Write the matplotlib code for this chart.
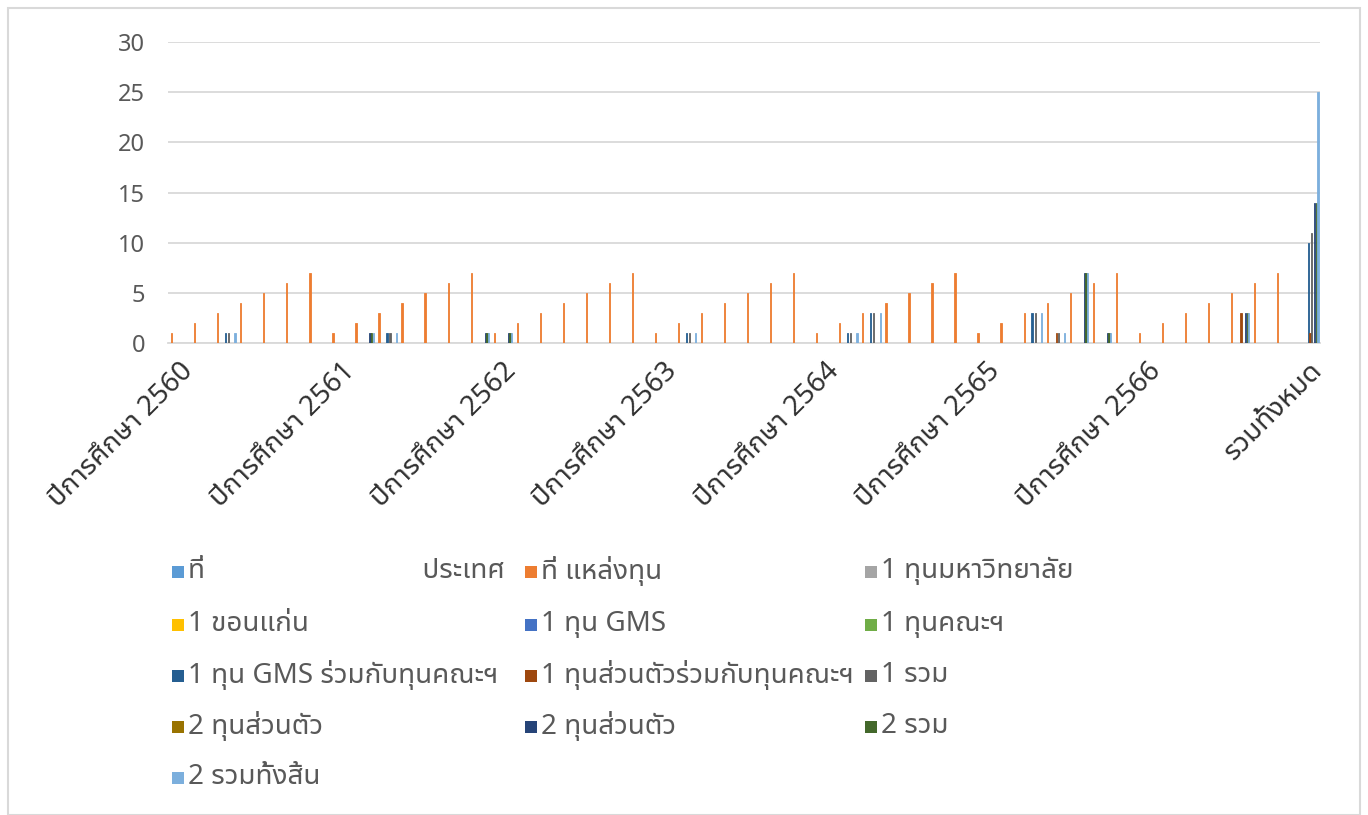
import matplotlib
matplotlib.use("Agg")
import matplotlib.pyplot as plt
from matplotlib.patches import Rectangle
import numpy as np

FONT = ['Noto Sans', 'Noto Sans Thai UI', 'Noto Sans Thai', 'DejaVu Sans']
plt.rcParams['font.family'] = FONT

# ---------------- data ----------------
# 50 categories: each year label followed by 6 unlabeled rows, then the grand total
categories = [
    "ปีการศึกษา 2560", "", "", "", "", "", "",
    "ปีการศึกษา 2561", "", "", "", "", "", "",
    "ปีการศึกษา 2562", "", "", "", "", "", "",
    "ปีการศึกษา 2563", "", "", "", "", "", "",
    "ปีการศึกษา 2564", "", "", "", "", "", "",
    "ปีการศึกษา 2565", "", "", "", "", "", "",
    "ปีการศึกษา 2566", "", "", "", "", "", "",
    "รวมทั้งหมด",
]

series_names = [
    "ที่                              ประเทศ",
    "ที่ แหล่งทุน",
    "1 ทุนมหาวิทยาลัย",
    "1 ขอนแก่น",
    "1 ทุน GMS",
    "1 ทุนคณะฯ",
    "1 ทุน GMS ร่วมกับทุนคณะฯ",
    "1 ทุนส่วนตัวร่วมกับทุนคณะฯ",
    "1 รวม",
    "2 ทุนส่วนตัว",
    "2 ทุนส่วนตัว",
    "2 รวม",
    "2 รวมทั้งสิ้น",
]

s_country = [0] * 50
s_source = [1, 2, 3, 4, 5, 6, 7,
            1, 2, 3, 4, 5, 6, 7,
            1, 2, 3, 4, 5, 6, 7,
            1, 2, 3, 4, 5, 6, 7,
            1, 2, 3, 4, 5, 6, 7,
            1, 2, 3, 4, 5, 6, 7,
            1, 2, 3, 4, 5, 6, 7,
            0]
s_univ = [0] * 50
s_kku = [0] * 50
s_gms = [0] * 50
s_faculty = [0] * 50
s_gms_fac = [0, 0, 1, 0, 0, 0, 0,
             0, 0, 1, 0, 0, 0, 0,
             0, 0, 0, 0, 0, 0, 0,
             0, 1, 0, 0, 0, 0, 0,
             0, 1, 3, 0, 0, 0, 0,
             0, 0, 3, 0, 0, 0, 0,
             0, 0, 0, 0, 0, 0, 0,
             10]
s_priv_fac = [0, 0, 0, 0, 0, 0, 0,
              0, 0, 0, 0, 0, 0, 0,
              0, 0, 0, 0, 0, 0, 0,
              0, 0, 0, 0, 0, 0, 0,
              0, 0, 0, 0, 0, 0, 0,
              0, 0, 0, 1, 0, 0, 0,
              0, 0, 0, 0, 3, 0, 0,
              1]
s_total1 = [0, 0, 1, 0, 0, 0, 0,
            0, 0, 1, 0, 0, 0, 0,
            0, 0, 0, 0, 0, 0, 0,
            0, 1, 0, 0, 0, 0, 0,
            0, 1, 3, 0, 0, 0, 0,
            0, 0, 3, 1, 0, 0, 0,
            0, 0, 0, 0, 0, 0, 0,
            11]
s_priv2a = [0] * 50
s_priv2b = [0, 0, 0, 0, 0, 0, 0,
            0, 1, 0, 0, 0, 0, 1,
            1, 0, 0, 0, 0, 0, 0,
            0, 0, 0, 0, 0, 0, 0,
            0, 0, 0, 0, 0, 0, 0,
            0, 0, 0, 0, 7, 1, 0,
            0, 0, 0, 0, 3, 0, 0,
            14]
s_total2 = [0, 0, 0, 0, 0, 0, 0,
            0, 1, 0, 0, 0, 0, 1,
            1, 0, 0, 0, 0, 0, 0,
            0, 0, 0, 0, 0, 0, 0,
            0, 0, 0, 0, 0, 0, 0,
            0, 0, 0, 0, 7, 1, 0,
            0, 0, 0, 0, 3, 0, 0,
            14]
s_grand = [0, 0, 1, 0, 0, 0, 0,
           0, 1, 1, 0, 0, 0, 1,
           1, 0, 0, 0, 0, 0, 0,
           0, 1, 0, 0, 0, 0, 0,
           0, 1, 3, 0, 0, 0, 0,
           0, 0, 3, 1, 7, 1, 0,
           0, 0, 0, 0, 3, 0, 0,
           25]

series_values = [s_country, s_source, s_univ, s_kku, s_gms, s_faculty, s_gms_fac,
                 s_priv_fac, s_total1, s_priv2a, s_priv2b, s_total2, s_grand]

colors = ["#5B9BD5", "#ED7D31", "#A5A5A5", "#FFC000", "#4472C4", "#70AD47", "#255E91",
          "#9E480E", "#636363", "#997300", "#264478", "#43682B", "#7CAFDD"]

# ---------------- figure ----------------
W, H = 1368, 815
fig = plt.figure(figsize=(W / 100, H / 100), dpi=100)
fig.patch.set_facecolor("white")

# outer chart border
fig.patches.append(Rectangle((8 / W, 0.0), (1360 - 8) / W, 1 - 8 / H, transform=fig.transFigure,
                             fill=False, edgecolor="#D9D9D9", linewidth=1.5))

ax = fig.add_axes([168 / W, 1 - 343 / H, (1320 - 168) / W, (343 - 42) / H])

n_series = len(series_values)
n_cat = len(categories)
gap = 1.66
bw = 1.0 / (n_series + gap)
x = np.arange(n_cat)
for i, (vals, col) in enumerate(zip(series_values, colors)):
    offs = -0.5 + gap * bw / 2 + (i + 0.5) * bw
    ax.bar(x + offs, vals, width=bw * 0.8, color=col, edgecolor=col, linewidth=0.6, zorder=3)

ax.set_xlim(-0.5, n_cat - 0.5)
ax.set_ylim(0, 30)
ax.set_yticks([0, 5, 10, 15, 20, 25, 30])
ax.yaxis.grid(True, color="#D9D9D9", linewidth=1.3, zorder=0)
ax.set_axisbelow(True)
for sp in ["left", "right", "top"]:
    ax.spines[sp].set_visible(False)
ax.spines["bottom"].set_color("#D9D9D9")
ax.spines["bottom"].set_linewidth(1.3)
ax.tick_params(axis="y", length=0, pad=16.5, labelsize=17, labelcolor="#595959")
ax.tick_params(axis="x", length=0, pad=10)

label_idx = [i for i, c in enumerate(categories) if c]
ax.set_xticks(label_idx)
ax.set_xticklabels([categories[i] for i in label_idx], rotation=45, ha="right",
                   rotation_mode="anchor", fontsize=20, fontweight="bold", color="#303030")

# ---------------- legend (row-major, 3 columns, Excel style) ----------------
col_x = [172, 525, 865]
row_y = [572, 625, 676, 727, 778]
sq = 12
for k, (name, col) in enumerate(zip(series_names, colors)):
    r, c = divmod(k, 3)
    xp, yp = col_x[c], row_y[r]
    fig.patches.append(Rectangle((xp / W, 1 - (yp + sq / 2) / H), sq / W, sq / H,
                                 transform=fig.transFigure, facecolor=col, edgecolor="none"))
    fig.text((xp + sq + 4) / W, 1 - (yp - 1) / H, name, fontsize=20, color="#595959",
             va="center", ha="left")

fig.savefig("out.png", dpi=100)
